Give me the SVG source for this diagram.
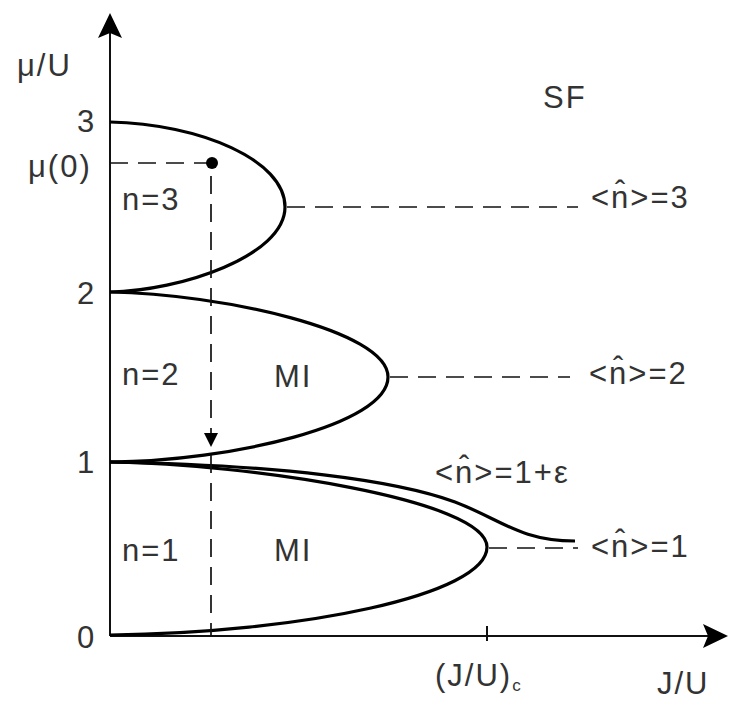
<svg xmlns="http://www.w3.org/2000/svg" width="735" height="702" viewBox="0 0 735 702">
<style>
text{font-family:"Liberation Sans",Arial,sans-serif;font-size:31px;fill:#333;letter-spacing:2px}
.lobe{fill:none;stroke:#000;stroke-width:3.2}
.axis{fill:none;stroke:#111;stroke-width:2}
.dash{fill:none;stroke:#111;stroke-width:1.7;stroke-dasharray:18 10}
</style>
<rect width="735" height="702" fill="#fff"/>
<g id="axes">
<line class="axis" x1="110" y1="636" x2="110" y2="30"/>
<path d="M110,13 L98,38 L110,33 L122,38 Z" fill="#000"/>
<line class="axis" x1="110" y1="636" x2="710" y2="636"/>
<path d="M728,636 L703,624 L708,636 L703,648 Z" fill="#000"/>
<line class="axis" x1="487" y1="626" x2="487" y2="641"/>
</g>
<g id="lobes">
<path class="lobe" d="M110,122 C200,124 285,160 285,207 C285,256 180,291 110,292"/>
<path class="lobe" d="M110,292 C220,294 388,330 388,377 C388,425 230,461 110,462"/>
<path class="lobe" d="M110,462 C250,464 487,500 487,547 C487,595 300,633 110,635"/>
<path class="lobe" d="M110,462 C280,465 395,480 455,502 C500,519 520,541 575,541"/>
</g>
<g id="connectors">
<line class="dash" x1="287" y1="207" x2="578" y2="207"/>
<line class="dash" x1="390" y1="377" x2="570" y2="377"/>
<line class="dash" x1="489" y1="548" x2="578" y2="548"/>
<line class="dash" x1="110" y1="163" x2="208" y2="163"/>
<line class="dash" x1="211" y1="176" x2="211" y2="436"/>
<path d="M211,447 L204,433 L218,433 Z" fill="#000"/>
<line class="dash" x1="211" y1="455" x2="211" y2="636"/>
<circle cx="212" cy="163" r="6" fill="#000"/>
</g>
<g id="labels">
<text x="17" y="76">μ/U</text>
<text x="77" y="132">3</text>
<text x="28" y="177">μ(0)</text>
<text x="77" y="304">2</text>
<text x="77" y="473">1</text>
<text x="77" y="648">0</text>
<text x="543" y="108">SF</text>
<text x="122" y="210">n=3</text>
<text x="122" y="385">n=2</text>
<text x="122" y="561">n=1</text>
<text x="274" y="387">MI</text>
<text x="274" y="561">MI</text>
<text x="591" y="208">&lt;n̂&gt;=3</text>
<text x="589" y="384">&lt;n̂&gt;=2</text>
<text x="435" y="483">&lt;n̂&gt;=1+ε</text>
<text x="591" y="557">&lt;n̂&gt;=1</text>
<text x="435" y="686">(J/U)<tspan font-size="17" dy="5">c</tspan></text>
<text x="657" y="694">J/U</text>
</g>
</svg>
